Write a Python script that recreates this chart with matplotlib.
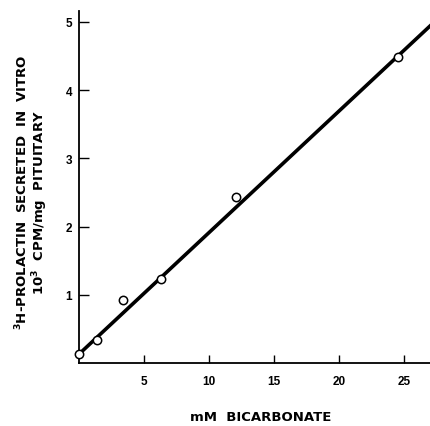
import matplotlib
matplotlib.use("Agg")
import matplotlib.pyplot as plt

# datos
bicarbonato = [0.0, 1.4, 3.4, 6.3, 12.1, 24.5]
prolactina = [0.13, 0.33, 0.93, 1.23, 2.43, 4.49]
linea_x = [0.0, 27.0]
linea_y = [0.13, 4.94]
ticks_x = [5, 10, 15, 20, 25]
ticks_y = [1, 2, 3, 4, 5]

plt.rcParams['font.family'] = ['DejaVu Sans']
plt.rcParams['font.weight'] = 'bold'

fig = plt.figure(figsize=(4.30, 4.27), dpi=100)
ax = fig.add_axes([79 / 430, 63 / 427, 1 - 79 / 430, (364 - 12) / 427])

ax.plot(linea_x, linea_y, color='black', linewidth=2.6, zorder=2)
ax.plot(bicarbonato, prolactina, linestyle='none', marker='o', markersize=6,
        markerfacecolor='white', markeredgecolor='black', markeredgewidth=1.1,
        zorder=3, clip_on=False)

ax.set_xlim(0, 27)
ax.set_ylim(0, 5.16)
ax.set_xticks(ticks_x)
ax.set_yticks(ticks_y)
ax.tick_params(axis='x', direction='in', length=5.5, width=1, labelsize=8.5, pad=9)
ax.tick_params(axis='y', direction='in', length=7.5, width=1, labelsize=8.5, pad=5)
for lab in ax.get_xticklabels() + ax.get_yticklabels():
    lab.set_fontweight('bold')
    lab.set_family('Liberation Sans')
ax.spines['top'].set_visible(False)
ax.spines['right'].set_visible(False)
ax.spines['left'].set_linewidth(1.3)
ax.spines['bottom'].set_linewidth(1.3)

fig.text(261 / 430, 1 - 418 / 427, 'mM  BICARBONATE', ha='center', va='center',
         fontsize=9.5, fontweight='bold')
fig.text(22 / 430, 1 - 192 / 427, r'$^{\mathbf{3}}$H-PROLACTIN  SECRETED  IN  VITRO',
         rotation=90, ha='center', va='center', fontsize=9.5, fontweight='bold')
fig.text(40 / 430, 1 - 202 / 427, r'10$^{\mathbf{3}}$  CPM/mg  PITUITARY',
         rotation=90, ha='center', va='center', fontsize=9.5, fontweight='bold')

fig.savefig('out.png', dpi=100)
